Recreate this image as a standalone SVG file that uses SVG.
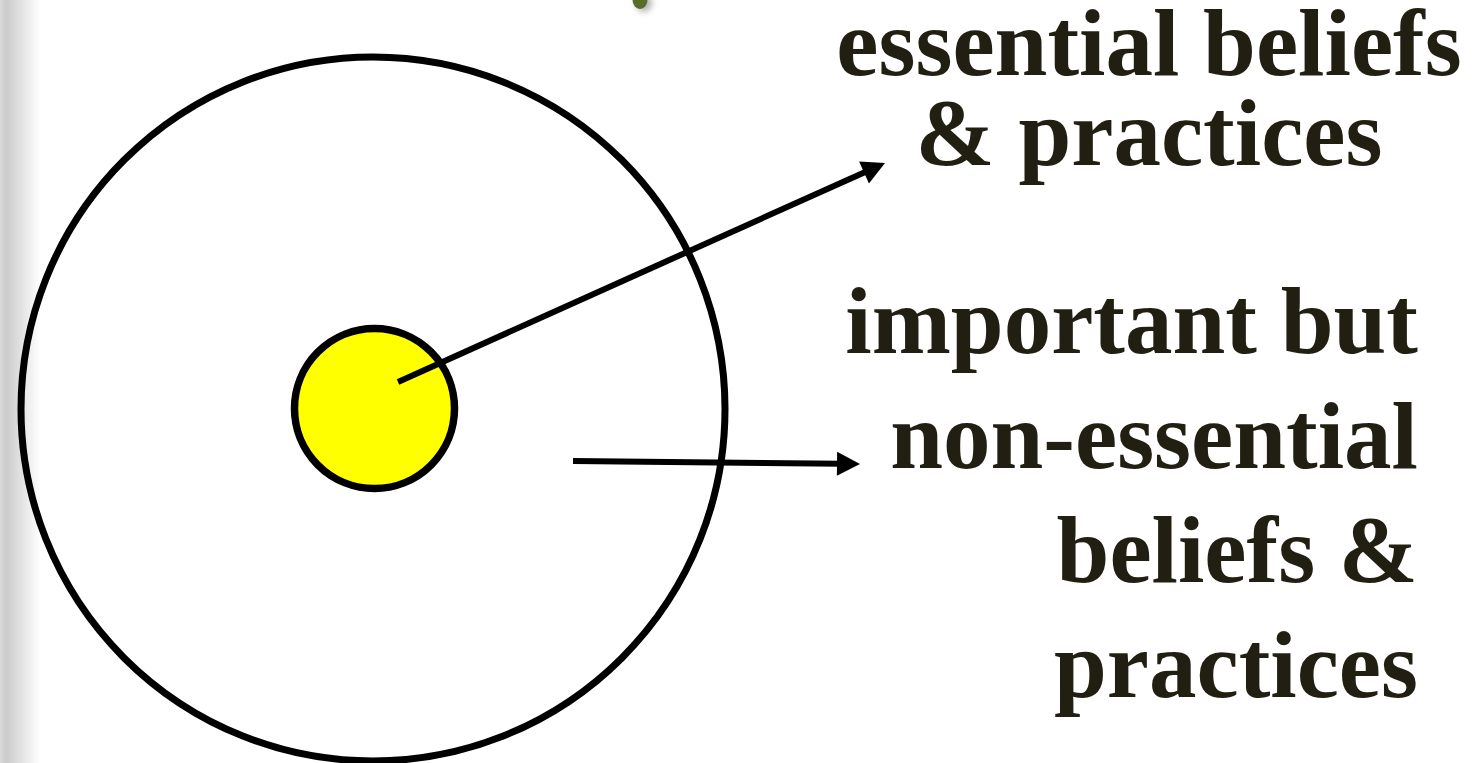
<svg xmlns="http://www.w3.org/2000/svg" width="1483" height="763" viewBox="0 0 1483 763">
  <style>
    .ring { fill: none; stroke: #000; stroke-width: 7; }
    .core { fill: #ffff00; stroke: #000; stroke-width: 7.5; }
    .conn { stroke: #000; stroke-width: 6; fill: none; marker-end: url(#head); }
    .lbl { font-family: "Liberation Serif", "Times New Roman", serif; font-weight: bold; font-size: 95px; fill: #211e12; }
  </style>
  <defs>
    <linearGradient id="edge" x1="0" y1="0" x2="1" y2="0">
      <stop offset="0" stop-color="#dadada"/>
      <stop offset="0.15" stop-color="#cbcbcb"/>
      <stop offset="1" stop-color="#ffffff"/>
    </linearGradient>
    <filter id="blur" x="-1" y="-1" width="3" height="3">
      <feGaussianBlur stdDeviation="3"/>
    </filter>
    <marker id="head" markerUnits="userSpaceOnUse" markerWidth="24" markerHeight="24" viewBox="0 0 23 24" refX="5" refY="12" orient="auto">
      <path d="M0,0 L23,12 L0,24 z" fill="#000"/>
    </marker>
  </defs>
  <rect width="1483" height="763" fill="#ffffff"/>
  <rect x="0" y="0" width="40" height="763" fill="url(#edge)"/>
  <g id="decoration">
    <ellipse cx="644" cy="3" rx="8" ry="9" fill="#808080" opacity="0.6" filter="url(#blur)"/>
    <ellipse cx="640" cy="0" rx="7.5" ry="9" fill="#5b6b2b"/>
  </g>
  <g id="outer-circle">
    <circle class="ring" cx="373" cy="409" r="352"/>
  </g>
  <g id="inner-circle">
    <circle class="core" cx="374.5" cy="408.5" r="80"/>
  </g>
  <g id="connectors">
    <line class="conn" x1="398" y1="382" x2="868.6" y2="170.4"/>
    <line class="conn" x1="573" y1="461" x2="842" y2="463.8"/>
  </g>
  <g id="label-essential">
    <text class="lbl" text-anchor="middle" x="1149" y="75">essential beliefs</text>
    <text class="lbl" text-anchor="middle" x="1149" y="165">&amp; practices</text>
  </g>
  <g id="label-nonessential">
    <text class="lbl" text-anchor="end" x="1418" y="353">important but</text>
    <text class="lbl" text-anchor="end" x="1418" y="468">non-essential</text>
    <text class="lbl" text-anchor="end" x="1418" y="582">beliefs &amp;</text>
    <text class="lbl" text-anchor="end" x="1418" y="697">practices</text>
  </g>
</svg>
